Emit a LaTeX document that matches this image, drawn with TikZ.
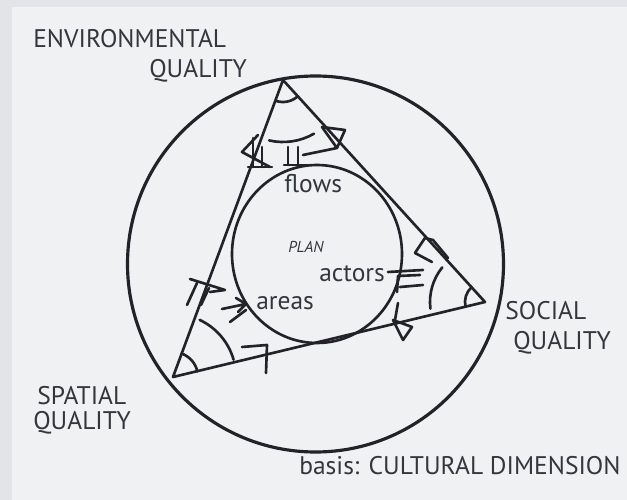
\documentclass[tikz,border=0pt]{standalone}
\usepackage{fontspec}
\setmainfont{PT Sans}
\definecolor{paper}{RGB}{240,241,243}
\definecolor{rim}{RGB}{226,228,232}
\definecolor{ink}{RGB}{34,34,40}
\definecolor{txt}{RGB}{52,54,62}
\tikzset{
  lbl/.style={text=txt,inner sep=0pt,anchor=base west,font=\fontsize{14.5}{16}\selectfont},
  small/.style={text=txt,inner sep=0pt,anchor=base west,font=\fontsize{9}{10}\selectfont\itshape}
}
\begin{document}
\begin{tikzpicture}[x=0.02cm,y=-0.02cm,color=ink,line width=1.5pt,line join=round,line cap=round]
\fill[rim] (0,0) rectangle (627,500);
\fill[paper] (12,7) rectangle (627,500);
\useasboundingbox (0,0) rectangle (627,500);
\coordinate (cen) at (315.5,264);
\coordinate (mid) at (317,254);
\coordinate (env) at (283,80);
\coordinate (spa) at (173,377);
\coordinate (soc) at (485,302);
% circles and triangle
\draw[line width=1.8pt] (cen) circle[radius=188];
\draw (mid) ellipse[x radius=85,y radius=89];
\draw (env) -- (spa) -- (soc) -- cycle;
% angle arcs at the corners
\foreach \v/\s/\e/\r in {env/48/110/22, env/60/103/62, spa/-70/-13/25, spa/-65/-16/63, soc/166/228/20, soc/173/219/55}
  \draw ([shift={(\s:\r)}]\v) arc[start angle=\s,end angle=\e,radius=\r];
% marks near env
\draw (258,135) -- (242,152) -- (270,167);
\draw (253,138) -- (253,167) (262,147) -- (262,167) (248,167) -- (272,167);
\draw (288,147) -- (288,165) (298,147) -- (298,165) (284,165) -- (308,165);
\draw (322,127) -- (345,130) -- (337,148) -- cycle (337,148) -- (303,155);
% marks near spa
\draw (190,279) -- (225,290) -- (210,292);
\draw (187,305) -- (197,283) (201,305) -- (209,288);
\draw (222,309) -- (246,304) (236,298) -- (246,304) -- (238,312);
\draw (230,322) -- (246,310);
\draw (242,347) -- (267,345) -- (266,373);
% marks near soc
\draw (415,253) -- (425,238) -- (433,240) -- (448,258) (415,253) -- (432,262);
\draw (388,272) -- (423,270) (398,276) -- (420,275) (400,287) -- (423,285) (398,276) -- (397,292);
\draw (398,303) -- (395,320) (393,320) -- (412,327) -- (403,340) -- cycle;
% labels
\node[lbl] (envA) at (32,48) {ENVIRONMENTAL};
\node[lbl] (envB) at (148,78) {QUALITY};
\node[lbl] (socA) at (504,320) {SOCIAL};
\node[lbl] (socB) at (512,350) {QUALITY};
\node[lbl] (spaA) at (36,405) {SPATIAL};
\node[lbl] (spaB) at (32,430) {QUALITY};
\node[lbl] (basis) at (298,475) {basis: CULTURAL DIMENSION};
\node[lbl] (flows) at (283,193) {flows};
\node[lbl] (actors) at (318,282) {actors};
\node[lbl] (areas) at (255,310) {areas};
\node[small] (plan) at (287,253) {PLAN};
\end{tikzpicture}
\end{document}
